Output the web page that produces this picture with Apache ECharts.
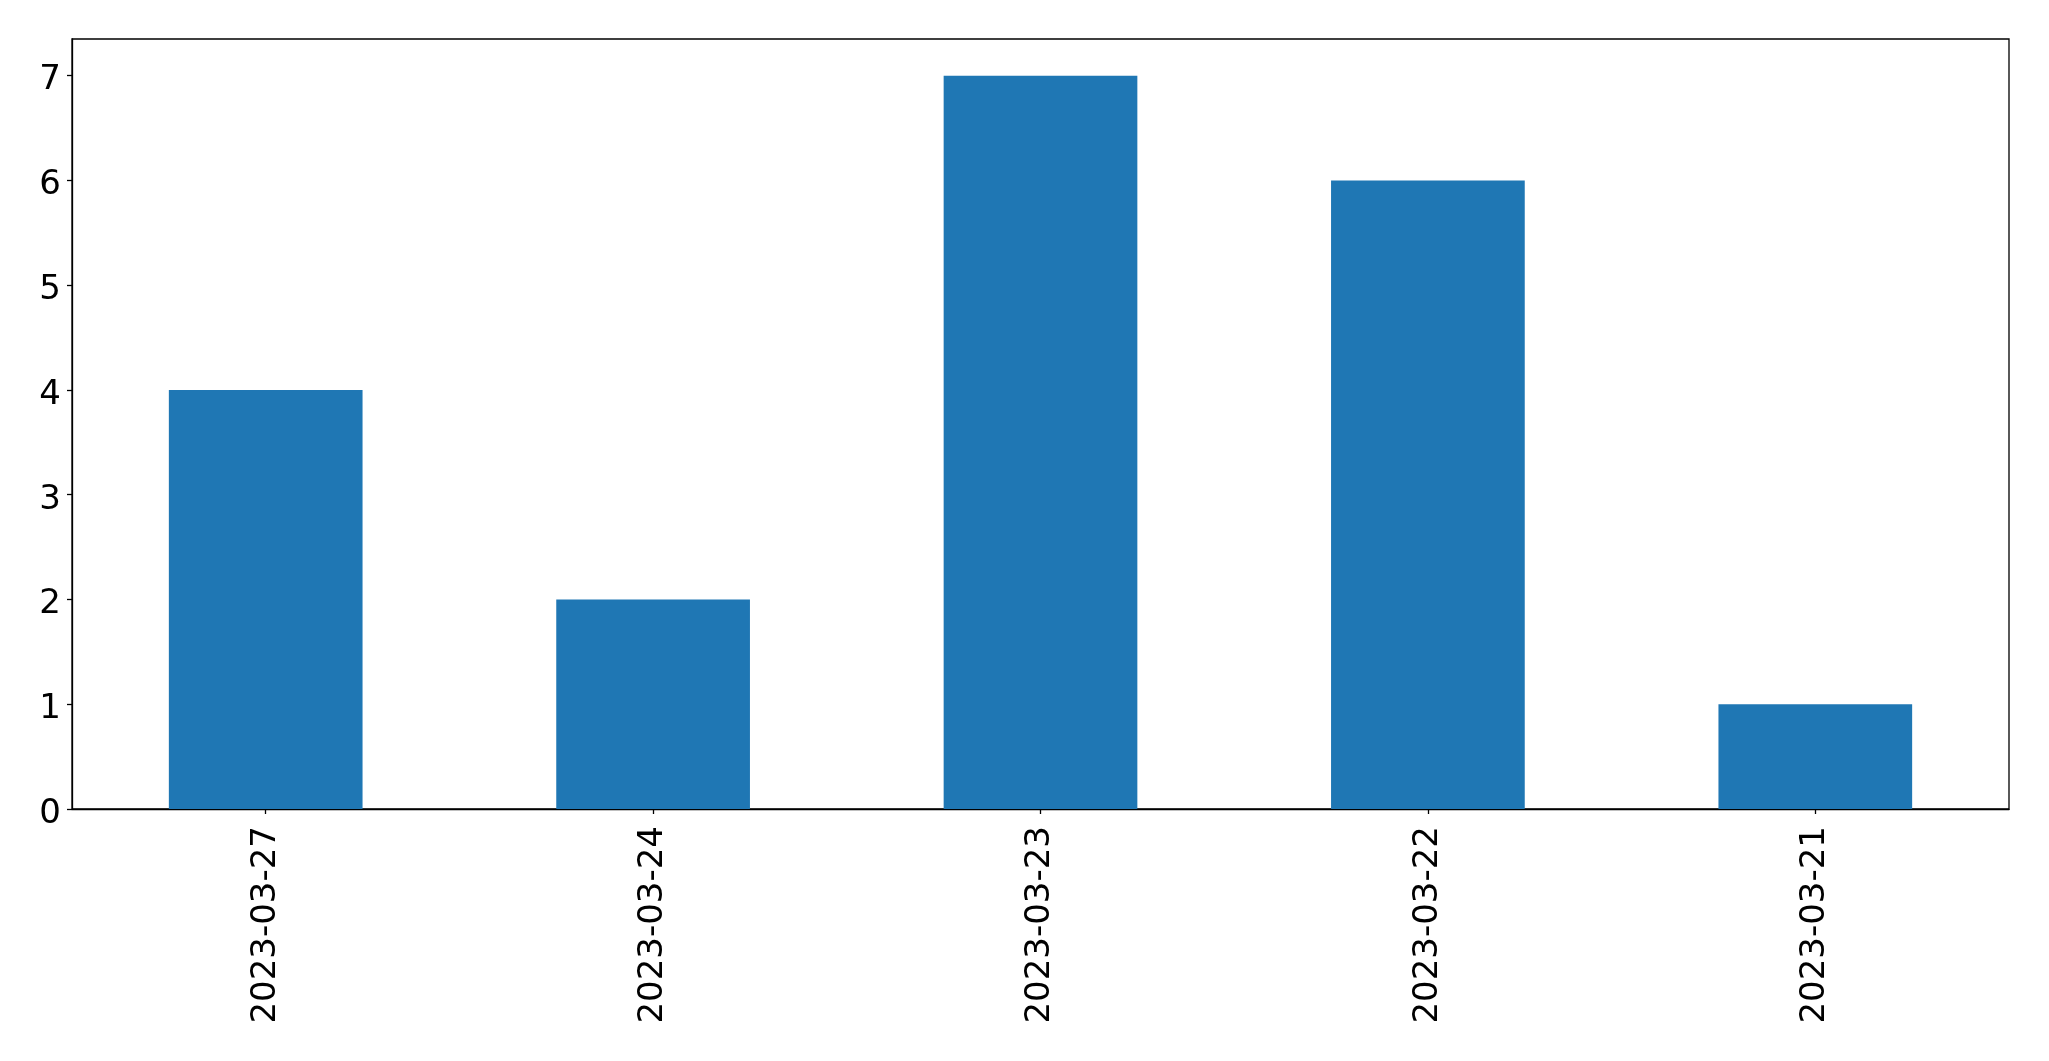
<!DOCTYPE html>
<html>
<head>
<meta charset="utf-8">
<script src="https://cdn.jsdelivr.net/npm/echarts@6/dist/echarts.min.js"></script>
<style>html,body{margin:0;padding:0;background:#fff;}#main{width:2049px;height:1061px;}</style>
</head>
<body>
<div id="main"></div>
<script>
const categories = ['2023-03-27', '2023-03-24', '2023-03-23', '2023-03-22', '2023-03-21'];
const counts = [4, 2, 7, 6, 1];
const yTicks = [0, 1, 2, 3, 4, 5, 6, 7];

const chart = echarts.init(document.getElementById('main'), null, {renderer: 'canvas'});
const font = 'DejaVu Sans';
chart.setOption({
  animation: false,
  backgroundColor: '#ffffff',
  grid: {left: 72, top: 39, width: 1937, height: 770, containLabel: false,
         show: true, borderColor: '#000', borderWidth: 1.3, backgroundColor: 'transparent'},
  xAxis: {
    type: 'category',
    data: categories,
    axisLine: {show: true, lineStyle: {color: '#000', width: 1.3}},
    axisTick: {show: true, alignWithLabel: true, length: 5, lineStyle: {color: '#000', width: 1.3}},
    axisLabel: {rotate: 90, margin: 17, color: '#000', fontFamily: font, fontSize: 34, interval: 0},
    splitLine: {show: false}
  },
  yAxis: {
    type: 'value',
    min: 0,
    max: 7.35,
    interval: 1,
    axisLine: {show: true, lineStyle: {color: '#000', width: 1.3}},
    axisTick: {show: true, length: 5, lineStyle: {color: '#000', width: 1.3}},
    axisLabel: {margin: 11, color: '#000', fontFamily: font, fontSize: 34, showMaxLabel: false,
      formatter: v => yTicks.includes(v) ? '{a|' + v + '}' : '',
      rich: {a: {fontFamily: font, fontSize: 34, color: '#000', padding: [10, 0, 0, 0]}}},
    splitLine: {show: false}
  },
  series: [{
    type: 'bar',
    data: counts,
    barWidth: '50%',
    itemStyle: {color: '#1f77b4'}
  }]
});
</script>
</body>
</html>
